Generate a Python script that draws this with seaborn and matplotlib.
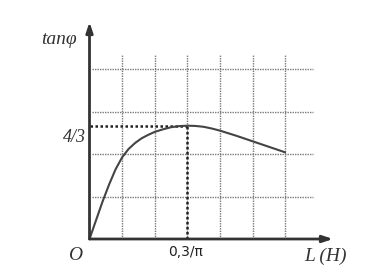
import matplotlib
matplotlib.use("Agg")
import matplotlib.pyplot as plt
import seaborn as sns
import pandas as pd

# Data (x in grid cells of 0.1/pi H, y = tan phi)
L_cells = [0.0, 0.2, 0.4, 0.6, 0.8, 1.0, 1.2, 1.4, 1.6, 1.8, 2.0, 2.25,
           2.5, 2.75, 3.0, 3.25, 3.5, 3.75, 4.0, 4.5, 5.0, 5.5, 6.0]
tan_phi = [0.0, 0.22, 0.44, 0.64, 0.82, 0.96, 1.06, 1.13, 1.185, 1.225, 1.26, 1.29,
           1.315, 1.328, 1.333, 1.33, 1.32, 1.30, 1.275, 1.215, 1.15, 1.085, 1.02]
x_grid = [1, 2, 3, 4, 5, 6]
y_grid = [0.5, 1.0, 1.5, 2.0]
peak_x = 3.0
peak_y = 4 / 3
x_tick_label = "0,3/π"
y_tick_label = "4/3"

sns.set_style("white")
W, H = 373, 266
fig = plt.figure(figsize=(W / 100, H / 100), dpi=100)
x0, x1 = 89.5, 333.0
y0, y1 = 239.0, 22.0
ax = fig.add_axes([x0 / W, 1 - y0 / H, (x1 - x0) / W, (y0 - y1) / H])
sx = 32.6
sy = 85.0
ax.set_xlim(0, (x1 - x0) / sx)
ax.set_ylim(0, (y0 - y1) / sy)
ax.axis("off")

grid_kw = dict(color="#7a7a7a", linestyle=(0, (1, 0.8)), linewidth=1.0)
ax.hlines(y_grid, 2.5 / sx, (313 - x0) / sx, **grid_kw)
ax.vlines(x_grid, 0, (y0 - 54) / sy, **grid_kw)

ref_kw = dict(color="#222222", linestyle=(0, (1, 1)), linewidth=1.8)
ax.plot([0, peak_x], [peak_y, peak_y], **ref_kw)
ax.plot([peak_x, peak_x], [0, peak_y], **ref_kw)

df = pd.DataFrame({"L": L_cells, "tan": tan_phi})
sns.lineplot(data=df, x="L", y="tan", ax=ax, color="#444444", linewidth=1.5)

# Axes with arrows
xmax = ax.get_xlim()[1]
ymax = ax.get_ylim()[1]
arrow_kw = dict(arrowstyle="-|>,head_length=0.6,head_width=0.2", color="#333333", lw=2.0,
                shrinkA=0, shrinkB=0)
ax.annotate("", xy=(xmax, 0), xytext=(0, 0), arrowprops=arrow_kw, annotation_clip=False)
ax.annotate("", xy=(0, ymax), xytext=(0, 0), arrowprops=arrow_kw, annotation_clip=False)

serif = dict(family="Liberation Serif", style="italic", color="#333333")
fig.text(59 / W, 1 - 40 / H, "tanφ", fontsize=14, ha="center", va="center", **serif)
fig.text(74 / W, 1 - 137 / H, y_tick_label, fontsize=13, ha="center", va="center", **serif)
fig.text(75 / W, 1 - 256 / H, "O", fontsize=14, ha="center", va="center", **serif)
fig.text(325 / W, 1 - 256 / H, "L (H)", fontsize=14, ha="center", va="center", **serif)
fig.text(186 / W, 1 - 252 / H, x_tick_label, fontsize=10, ha="center", va="center",
         family="DejaVu Sans", color="#222222")

fig.savefig("out.png", dpi=100)
